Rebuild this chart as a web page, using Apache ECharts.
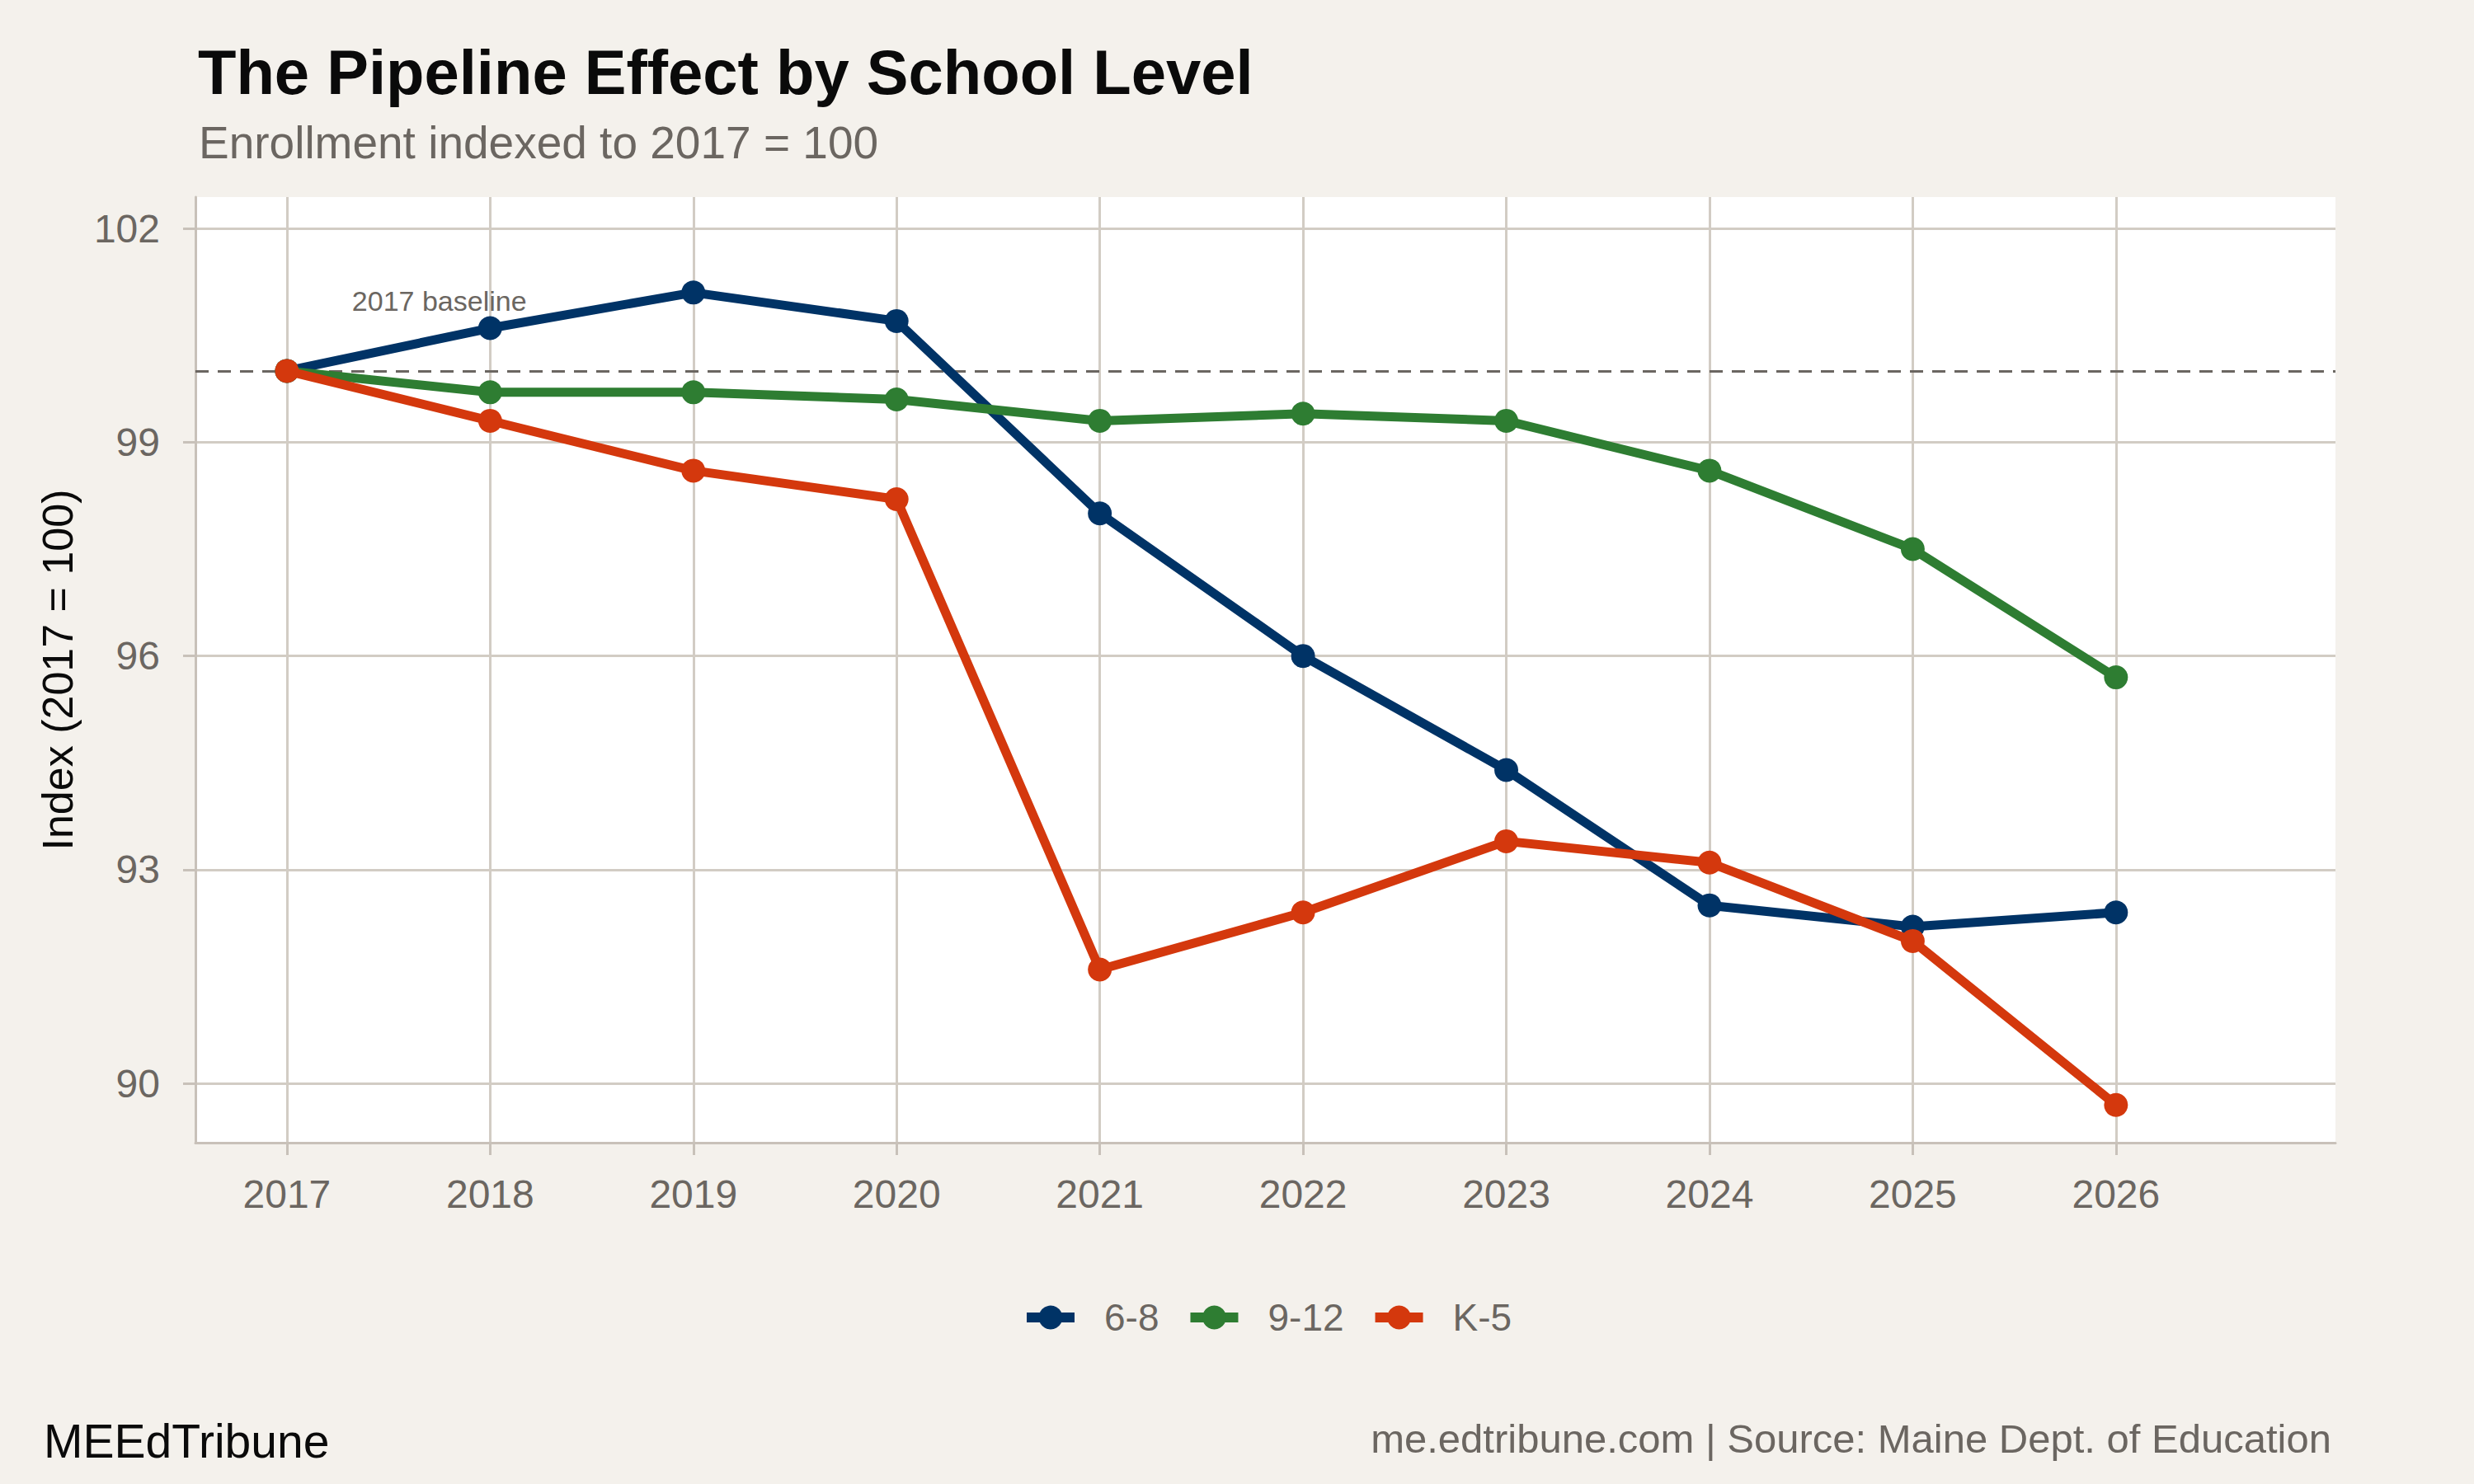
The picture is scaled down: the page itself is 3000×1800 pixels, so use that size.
<!DOCTYPE html>
<html>
<head>
<meta charset="utf-8">
<script src="https://cdn.jsdelivr.net/npm/echarts@6/dist/echarts.min.js"></script>
<style>
  html, body { margin: 0; padding: 0; background: #f4f1ec; }
  #chart { width: 3000px; height: 1800px; }
</style>
</head>
<body>
<div id="chart"></div>
<script>
// Data (index, 2017 = 100)
const years = [2017, 2018, 2019, 2020, 2021, 2022, 2023, 2024, 2025, 2026];
const seriesNames = ["6-8", "9-12", "K-5"];
const grade68 = [100, 100.6, 101.1, 100.7, 98.0, 96.0, 94.4, 92.5, 92.2, 92.4];
const grade912 = [100, 99.7, 99.7, 99.6, 99.3, 99.4, 99.3, 98.6, 97.5, 95.7];
const gradeK5 = [100, 99.3, 98.6, 98.2, 91.6, 92.4, 93.4, 93.1, 92.0, 89.7];
const yTicks = [90, 93, 96, 99, 102];
const baselineValue = 100;

const colors = ["#003366", "#2e7d32", "#d4380d"];
const font = "Liberation Sans, Arial, Helvetica, sans-serif";
const gray = "#6b6661";
const gridColor = "#d2ccc4";
const axisColor = "#c8c1b9";

const chart = echarts.init(document.getElementById("chart"), null, { renderer: "svg" });

function toPairs(values) {
  return values.map((v, i) => [years[i], v]);
}

const allValues = [grade68, grade912, gradeK5];

const series = allValues.map((vals, i) => {
  const s = {
    name: seriesNames[i],
    type: "line",
    data: toPairs(vals),
    symbol: "circle",
    symbolSize: 29,
    showSymbol: true,
    lineStyle: { width: 11, color: colors[i] },
    itemStyle: { color: colors[i] },
    z: 3 + i,
    animation: false,
  };
  if (i === 0) {
    // dashed 2017 baseline + its label
    s.markLine = {
      silent: true,
      symbol: "none",
      label: { show: false },
      lineStyle: { type: [16, 11], color: gray, width: 3 },
      data: [{ yAxis: baselineValue }],
      z: 1,
    };
    s.markPoint = {
      silent: true,
      symbol: "circle",
      symbolSize: 1,
      itemStyle: { color: "rgba(0,0,0,0)" },
      label: {
        show: true,
        position: "inside",
        formatter: "2017 baseline",
        color: gray,
        fontSize: 34,
        fontFamily: font,
      },
      data: [{ coord: [2017.75, 100.98] }],
    };
  }
  return s;
});

const option = {
  backgroundColor: "#f4f1ec",
  animation: false,
  textStyle: { fontFamily: font },
  title: [
    {
      text: "The Pipeline Effect by School Level",
      left: 235,
      top: 44,
      textStyle: { fontSize: 76, fontWeight: "bold", color: "#0a0a0a", fontFamily: font },
    },
    {
      text: "Enrollment indexed to 2017 = 100",
      left: 236,
      top: 140,
      textStyle: { fontSize: 55, fontWeight: "normal", color: gray, fontFamily: font },
    },
    {
      text: "MEEdTribune",
      left: 48,
      top: 1714,
      textStyle: { fontSize: 57, fontWeight: "normal", color: "#0a0a0a", fontFamily: font },
    },
    {
      text: "me.edtribune.com | Source: Maine Dept. of Education",
      right: 168,
      top: 1715,
      textStyle: { fontSize: 49, fontWeight: "normal", color: gray, fontFamily: font },
    },
  ],
  legend: {
    data: seriesNames,
    left: 1234,
    top: 1570,
    itemWidth: 58,
    itemHeight: 36,
    itemGap: 32,
    lineStyle: { width: 12 },
    textStyle: { fontSize: 46, color: gray, fontFamily: font, padding: [0, 0, 0, 31] },
  },
  grid: {
    left: 237,
    right: 168,
    top: 239,
    bottom: 414,
    show: true,
    backgroundColor: "#ffffff",
    borderWidth: 0,
    containLabel: false,
  },
  xAxis: {
    type: "value",
    min: 2016.55,
    max: 2027.08,
    axisLine: { show: true, lineStyle: { color: axisColor, width: 3 } },
    axisTick: {
      show: true,
      customValues: years,
      length: 15,
      lineStyle: { color: axisColor, width: 3 },
    },
    axisLabel: {
      customValues: years,
      formatter: (v) => String(v),
      fontSize: 48,
      color: gray,
      margin: 38,
      fontFamily: font,
    },
    splitLine: { show: true, lineStyle: { color: gridColor, width: 3 } },
  },
  yAxis: {
    type: "value",
    min: 89.17,
    max: 102.44,
    name: "Index (2017 = 100)",
    nameLocation: "middle",
    nameGap: 141,
    nameTextStyle: { fontSize: 52, color: "#0a0a0a", fontFamily: font },
    axisLine: { show: true, lineStyle: { color: axisColor, width: 3 } },
    axisTick: {
      show: true,
      customValues: yTicks,
      length: 15,
      lineStyle: { color: axisColor, width: 3 },
    },
    axisLabel: {
      customValues: yTicks,
      fontSize: 48,
      color: gray,
      margin: 43,
      fontFamily: font,
    },
    splitLine: { show: true, lineStyle: { color: gridColor, width: 3 } },
  },
  series: series,
};

chart.setOption(option);
</script>
</body>
</html>
